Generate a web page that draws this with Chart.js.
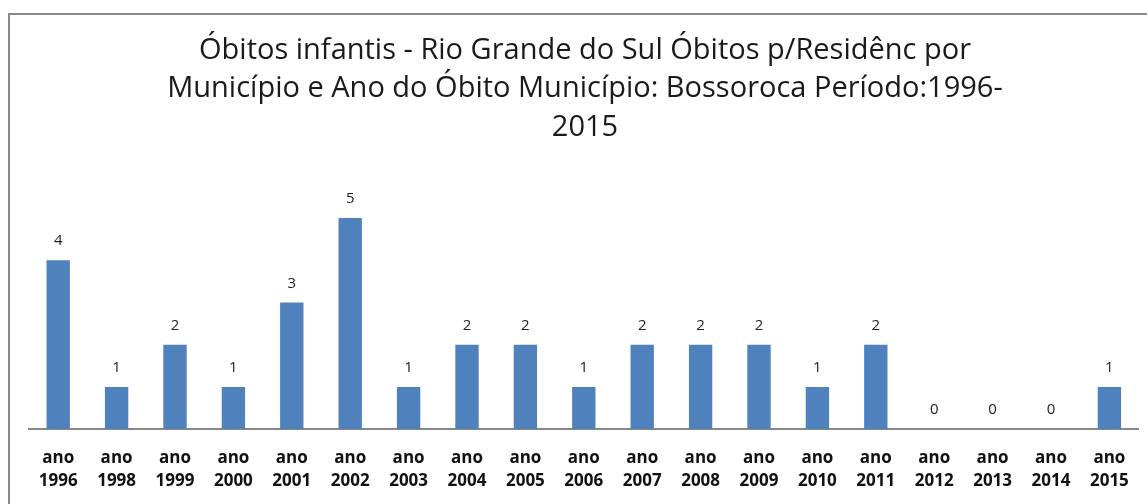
<!DOCTYPE html>
<html>
<head>
<meta charset="utf-8">
<script src="https://cdn.jsdelivr.net/npm/chart.js@4.4.1/dist/chart.umd.min.js"></script>
<style>
  html, body { margin: 0; padding: 0; background: #fff; overflow: hidden; }
  #wrap { position: relative; width: 1147px; height: 504px; overflow: hidden; }
  #frame { position: absolute; left: 8px; top: 13px; right: -5px; bottom: -5px;
           border-left: 2px solid #8a8a8a; border-top: 2px solid #8a8a8a; }
  canvas { position: absolute; left: 0; top: 0; }
</style>
</head>
<body>
<div id="wrap">
  <div id="frame"></div>
  <!-- canvas a bit taller than the window so the axis sits lower, as in the picture -->
  <canvas id="chart" width="1147" height="516"></canvas>
</div>
<script>
// years and death counts
const years = ["1996", "1998", "1999", "2000", "2001", "2002", "2003", "2004", "2005", "2006",
               "2007", "2008", "2009", "2010", "2011", "2012", "2013", "2014", "2015"];
const deaths = [4, 1, 2, 1, 3, 5, 1, 2, 2, 1, 2, 2, 2, 1, 2, 0, 0, 0, 1];
const titleLines = [
  "Óbitos infantis - Rio Grande do Sul Óbitos p/Residênc por",
  "Município e Ano do Óbito Município: Bossoroca Período:1996-",
  "2015"
];

// draws the number above each bar
const valueLabels = {
  id: "valueLabels",
  afterDatasetsDraw(chart) {
    const ctx = chart.ctx;
    const meta = chart.getDatasetMeta(0);
    ctx.save();
    ctx.font = "15px 'Open Sans'";
    ctx.fillStyle = "#222";
    ctx.textAlign = "center";
    ctx.textBaseline = "middle";
    meta.data.forEach((bar, i) => {
      ctx.fillText(String(deaths[i]), bar.x, bar.y - 19);
    });
    ctx.restore();
  }
};

const ctx = document.getElementById("chart").getContext("2d");
new Chart(ctx, {
  type: "bar",
  data: {
    labels: years.map(y => ["ano", y]),
    datasets: [{
      data: deaths,
      backgroundColor: "#4f81bd",
      barPercentage: 0.4,
      categoryPercentage: 1
    }]
  },
  options: {
    responsive: false,
    animation: false,
    layout: { padding: { left: 29, right: 6, top: 31, bottom: 6 } },
    plugins: {
      legend: { display: false },
      tooltip: { enabled: false },
      title: {
        display: true,
        text: titleLines,
        color: "#1a1a1a",
        font: { family: "'Open Sans'", size: 29, weight: "normal", lineHeight: 1.33 },
        padding: { top: 0, bottom: 29 }
      }
    },
    scales: {
      x: {
        grid: { display: false, drawTicks: false },
        border: { display: true, color: "#888", width: 2 },
        ticks: {
          color: "#111",
          font: { family: "'Open Sans'", size: 17, weight: "bold", lineHeight: 1.32 },
          padding: 18,
          maxRotation: 0,
          autoSkip: false
        }
      },
      y: {
        display: false,
        min: 0,
        max: 6
      }
    }
  },
  plugins: [valueLabels]
});
</script>
</body>
</html>
